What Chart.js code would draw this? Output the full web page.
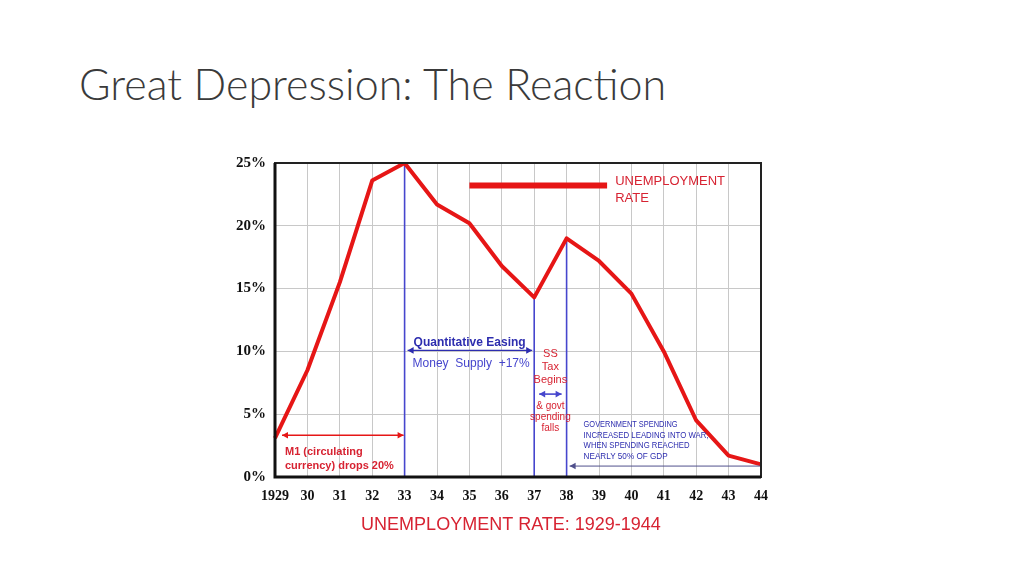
<!DOCTYPE html>
<html>
<head>
<meta charset="utf-8">
<script src="https://cdn.jsdelivr.net/npm/chart.js@4/dist/chart.umd.min.js"></script>
<style>
  html, body { margin: 0; padding: 0; background: #fff; }
  #wrap { position: relative; width: 1024px; height: 576px; overflow: hidden; }
  #title {
    position: absolute; left: 79px; top: 58px;
    font-family: Lato, "Open Sans", sans-serif; font-weight: 300;
    font-size: 43px; color: #3a3a3a; white-space: nowrap;
  }
  canvas { position: absolute; left: 0; top: 0; }
</style>
</head>
<body>
<div id="wrap">
  <div id="title">Great Depression: The Reaction</div>
  <canvas id="chart" width="1024" height="576"></canvas>
</div>
<script>
// ==== DATA ====
const years      = ['1929','30','31','32','33','34','35','36','37','38','39','40','41','42','43','44'];
const unemploy   = [3.1, 8.5, 15.5, 23.6, 25.0, 21.7, 20.2, 16.8, 14.3, 19.0, 17.2, 14.6, 10.0, 4.5, 1.7, 1.0];
const yTicks     = [0, 5, 10, 15, 20, 25];
const markerIdx  = [4, 8, 9];   // 1933, 1937, 1938 blue lines

const RED  = 'rgb(230,22,22)';
const TRED = 'rgb(215,35,50)';
const BLUE = 'rgb(70,70,205)';
const TBLU = 'rgb(45,45,175)';

// ==== HELPERS ====
function arrowHead(ctx, x, y, dir, size) {
  ctx.beginPath();
  ctx.moveTo(x, y);
  ctx.lineTo(x - dir*size, y - size*0.55);
  ctx.lineTo(x - dir*size, y + size*0.55);
  ctx.closePath();
  ctx.fill();
}
function hArrow(ctx, x1, x2, y, color, w, left, right) {
  ctx.strokeStyle = color; ctx.fillStyle = color; ctx.lineWidth = w;
  ctx.beginPath(); ctx.moveTo(x1, y); ctx.lineTo(x2, y); ctx.stroke();
  if (left)  arrowHead(ctx, x1, y, -1, 6);
  if (right) arrowHead(ctx, x2, y,  1, 6);
}
function txt(ctx, s, x, y, font, color, align, maxW) {
  ctx.font = font; ctx.fillStyle = color;
  ctx.textAlign = align || 'left'; ctx.textBaseline = 'middle';
  if (maxW) ctx.fillText(s, x, y, maxW); else ctx.fillText(s, x, y);
}

// ==== ANNOTATION PLUGIN ====
const notes = {
  id: 'notes',
  beforeDatasetsDraw(chart) {
    const {ctx, chartArea: a, scales: {x, y}} = chart;
    const px = i => x.getPixelForValue(i);
    const py = v => y.getPixelForValue(v);
    ctx.save();
    // blue vertical marker lines
    ctx.strokeStyle = BLUE; ctx.lineWidth = 1.6;
    markerIdx.forEach(i => {
      ctx.beginPath(); ctx.moveTo(px(i), py(unemploy[i])); ctx.lineTo(px(i), a.bottom); ctx.stroke();
    });
    ctx.restore();
  },
  afterDatasetsDraw(chart) {
    const {ctx, chartArea: a, scales: {x, y}} = chart;
    const px = i => x.getPixelForValue(i);
    const py = v => y.getPixelForValue(v);
    ctx.save();

    // legend
    ctx.strokeStyle = RED; ctx.lineWidth = 6;
    ctx.beginPath(); ctx.moveTo(px(6), py(23.2)); ctx.lineTo(px(10.25), py(23.2)); ctx.stroke();
    txt(ctx, 'UNEMPLOYMENT', px(10.5), py(23.5), '13px "Liberation Sans", Arial', TRED);
    txt(ctx, 'RATE', px(10.5), py(22.2), '13px "Liberation Sans", Arial', TRED);

    // quantitative easing
    txt(ctx, 'Quantitative Easing', px(4) + 9, py(10.7), 'bold 12px "Liberation Sans", Arial', TBLU);
    hArrow(ctx, px(4) + 3, px(8) - 2, py(10.08), TBLU, 1.2, true, true);
    txt(ctx, 'Money  Supply  +17%', px(4) + 8, py(9.05), '12px "Liberation Sans", Arial', BLUE);

    // SS tax
    const mid = (px(8) + px(9)) / 2;
    ['SS', 'Tax', 'Begins'].forEach((s, k) =>
      txt(ctx, s, mid, py([9.76, 8.73, 7.7][k]), '11px "Liberation Sans", Arial', TRED, 'center'));
    hArrow(ctx, px(8) + 5, px(9) - 5, py(6.6), BLUE, 1.6, true, true);
    ['& govt', 'spending', 'falls'].forEach((s, k) =>
      txt(ctx, s, mid, py([5.63, 4.76, 3.89][k]), '10px "Liberation Sans", Arial', TRED, 'center'));

    // government spending
    const gov = ['GOVERNMENT SPENDING', 'INCREASED LEADING INTO WAR,', 'WHEN SPENDING REACHED', 'NEARLY 50% OF GDP'];
    const govW = [94, 125, 106, 84];
    gov.forEach((s, k) =>
      txt(ctx, s, px(9) + 17, py([4.2, 3.33, 2.54, 1.67][k]), '9px "Liberation Sans", Arial', TBLU, 'left', govW[k]));
    hArrow(ctx, px(9) + 3, px(15), py(0.87), 'rgb(80,80,140)', 1, true, false);

    // M1
    hArrow(ctx, px(0) + 7, px(4) - 1, py(3.33), RED, 1.6, true, true);
    txt(ctx, 'M1 (circulating', px(0) + 10, py(1.98), 'bold 11px "Liberation Sans", Arial', TRED);
    txt(ctx, 'currency) drops 20%', px(0) + 10, py(0.87), 'bold 11px "Liberation Sans", Arial', TRED);

    // frame
    ctx.strokeStyle = '#222'; ctx.lineWidth = 2;
    ctx.strokeRect(a.left, a.top, a.right - a.left, a.bottom - a.top);
    ctx.lineWidth = 3; ctx.strokeStyle = '#111';
    ctx.beginPath(); ctx.moveTo(a.left, a.top); ctx.lineTo(a.left, a.bottom); ctx.lineTo(a.right, a.bottom); ctx.stroke();

    // bottom caption
    txt(ctx, 'UNEMPLOYMENT RATE: 1929-1944', 511, 525, '18px "Liberation Sans", Arial', TRED, 'center');
    ctx.restore();
  }
};

// ==== CHART ====
new Chart(document.getElementById('chart'), {
  type: 'line',
  data: {
    labels: years,
    datasets: [{
      data: unemploy,
      borderColor: RED,
      borderWidth: 4,
      pointRadius: 0,
      tension: 0,
      borderJoinStyle: 'round'
    }]
  },
  options: {
    responsive: false, animation: false,
    layout: { padding: { left: 215, top: 163, right: 263, bottom: 69 } },
    plugins: { legend: { display: false }, tooltip: { enabled: false } },
    scales: {
      x: {
        afterFit: s => { s.height = 30; },
        grid: { color: '#c8c8c8', lineWidth: 1, drawTicks: false },
        border: { display: false },
        ticks: {
          autoSkip: false, maxRotation: 0, padding: 11, color: '#111',
          font: { family: '"Liberation Serif", "Times New Roman", serif', weight: 'bold', size: 14 }
        }
      },
      y: {
        min: 0, max: 25,
        afterFit: s => { s.width = 60; },
        afterBuildTicks: s => { s.ticks = yTicks.map(v => ({ value: v })); },
        grid: { color: '#c8c8c8', lineWidth: 1, drawTicks: false },
        border: { display: false },
        ticks: {
          padding: 9, color: '#111',
          callback: v => v + '%',
          font: { family: '"Liberation Serif", "Times New Roman", serif', weight: 'bold', size: 15 }
        }
      }
    }
  },
  plugins: [notes]
});
</script>
</body>
</html>
